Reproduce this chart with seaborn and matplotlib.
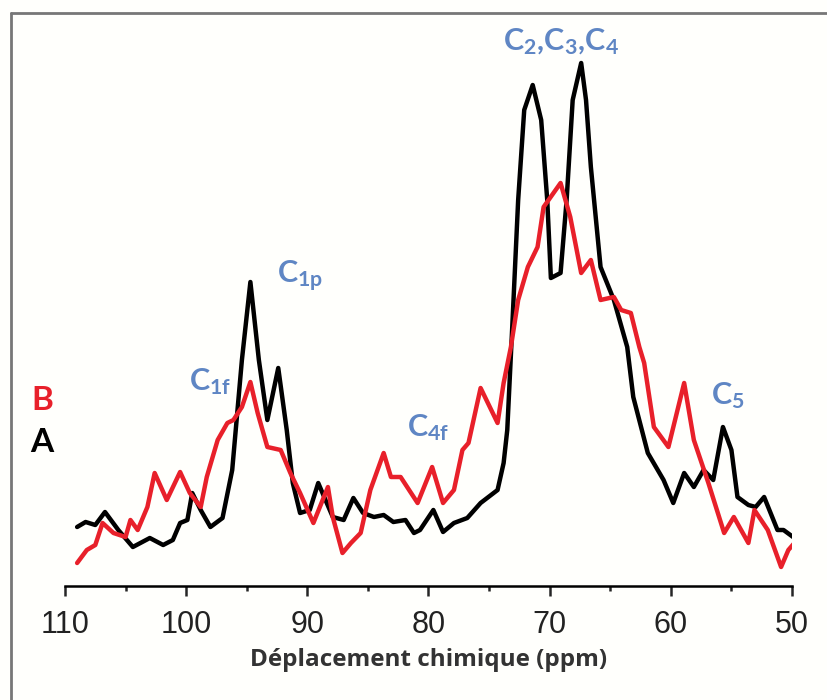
import pandas as pd
import numpy as np
import matplotlib.pyplot as plt
import seaborn as sns
from matplotlib.lines import Line2D
from matplotlib.ticker import MultipleLocator

# Spectre A (noir) : déplacement (ppm) et intensité (u.a.)
ppm_A = [109.0, 108.3, 107.5, 106.7, 105.6, 104.4, 103.0, 101.9, 101.1, 100.5, 99.9, 99.5,
         98.8, 98.0, 97.0, 96.2, 95.4, 94.7, 94.0, 93.3, 92.4, 91.7, 91.2, 90.6, 89.8, 89.1,
         88.5, 87.9, 87.0, 86.2, 85.4, 84.5, 83.7, 82.9, 81.9, 81.2, 80.7, 79.6, 78.8, 77.9,
         76.8, 75.7, 74.3, 73.8, 73.5, 73.1, 72.6, 72.1, 71.4, 70.7, 70.2, 69.9, 69.1, 68.6,
         68.1, 67.4, 67.0, 66.6, 65.8, 64.7, 63.6, 63.1, 61.9, 60.6, 59.8, 58.9, 58.1, 57.3,
         56.5, 55.7, 55.0, 54.5, 53.6, 53.0, 52.3, 51.7, 51.2, 50.7, 49.8]
int_A = [11.8, 12.8, 12.2, 14.8, 11.2, 7.8, 9.6, 8.2, 9.2, 12.6, 13.2, 18.6,
         15.2, 11.8, 13.6, 23.2, 45.2, 60.8, 45.2, 33.2, 43.6, 31.2, 20.6, 14.6, 15.2, 20.6,
         17.2, 13.8, 13.2, 17.6, 14.6, 13.8, 14.2, 12.8, 13.2, 10.6, 11.2, 15.2, 10.8, 12.6,
         13.6, 16.6, 19.2, 24.6, 31.2, 51.2, 77.2, 95.2, 100.2, 93.2, 77.2, 61.6, 62.6, 77.2,
         97.2, 104.6, 97.2, 83.8, 63.8, 57.2, 47.8, 37.8, 26.6, 21.2, 16.6, 22.6, 19.8, 23.2,
         21.2, 31.8, 27.2, 17.8, 16.2, 15.8, 17.8, 14.2, 11.2, 11.2, 9.6]

# Spectre B (rouge)
ppm_B = [109.0, 108.2, 107.5, 106.9, 106.0, 105.0, 104.6, 104.0, 103.2, 102.6, 101.6, 100.5,
         99.7, 98.8, 98.3, 97.4, 96.6, 96.1, 95.4, 94.7, 94.1, 93.3, 92.2, 91.4, 90.6, 89.5,
         88.3, 87.9, 87.1, 86.4, 85.6, 84.8, 83.7, 83.1, 82.3, 80.9, 79.7, 78.8, 77.9, 77.2,
         76.7, 75.7, 74.3, 73.8, 73.2, 72.6, 71.8, 71.0, 70.5, 69.1, 68.3, 67.4, 66.6, 65.8,
         64.7, 64.1, 63.3, 62.6, 62.2, 61.4, 60.2, 58.9, 58.1, 56.9, 55.6, 54.8, 53.6, 53.1,
         52.0, 50.9, 50.3, 49.8]
int_B = [4.6, 7.2, 8.2, 12.6, 10.6, 9.8, 13.2, 11.2, 15.8, 22.6, 17.2, 22.8,
         18.6, 15.8, 21.8, 29.2, 32.6, 33.2, 35.8, 40.8, 34.6, 27.8, 27.2, 22.6, 18.6, 12.6,
         19.8, 13.8, 6.6, 8.6, 10.6, 19.2, 26.6, 21.8, 21.8, 16.6, 23.8, 16.6, 19.2, 27.2,
         28.6, 39.6, 32.6, 40.6, 47.8, 57.2, 63.8, 67.8, 75.8, 80.6, 73.8, 62.6, 65.2, 57.2,
         57.8, 55.2, 54.6, 47.8, 44.6, 31.8, 27.8, 40.6, 29.2, 20.6, 10.6, 13.8, 8.6, 15.2,
         11.2, 3.8, 7.2, 8.6]

# étiquettes des pics : (texte, ppm, intensité)
pics = [("C$_{1f}$", 98.0, 40.8),
        ("C$_{1p}$", 90.6, 62.0),
        ("C$_{4f}$", 80.0, 31.6),
        ("C$_{2}$,C$_{3}$,C$_{4}$", 69.1, 108.8),
        ("C$_{5}$", 55.3, 38.0)]

df_A = pd.DataFrame({'ppm': ppm_A, 'intensite': int_A})
df_B = pd.DataFrame({'ppm': ppm_B, 'intensite': int_B})

sns.set_style("white")
plt.rcParams['font.family'] = ['Lato', 'DejaVu Sans']
plt.rcParams['mathtext.fontset'] = 'custom'
plt.rcParams['mathtext.rm'] = 'Lato'
plt.rcParams['mathtext.bf'] = 'Lato:bold'
plt.rcParams['mathtext.default'] = 'bf'

fond = '#fffffc'
fig = plt.figure(figsize=(8.28, 7.0), dpi=100, facecolor=fond)
ax = fig.add_axes([65 / 828, 114 / 700, 727 / 828, 566 / 700])
ax.set_facecolor(fond)

sns.lineplot(data=df_A, x='ppm', y='intensite', ax=ax, color='black', lw=3.2,
             sort=False, estimator=None)
sns.lineplot(data=df_B, x='ppm', y='intensite', ax=ax, color='#e8202a', lw=3.2,
             sort=False, estimator=None)
for line in ax.lines:
    line.set_solid_joinstyle('round')
    line.set_solid_capstyle('round')

ax.set_xlim(110, 50)
ax.set_ylim(0, 113.2)
ax.xaxis.set_major_locator(MultipleLocator(10))
ax.xaxis.set_minor_locator(MultipleLocator(5))
ax.tick_params(axis='x', which='major', direction='out', length=7, width=1.8,
               labelsize=22, pad=10, bottom=True)
ax.tick_params(axis='x', which='minor', direction='out', length=3.5, width=1.8, bottom=True)
for lab in ax.get_xticklabels():
    lab.set_fontfamily('Liberation Sans')
    lab.set_color('#222222')
ax.set_yticks([])
ax.set_ylabel('')
ax.set_xlabel('Déplacement chimique (ppm)', fontsize=17.5, fontweight='bold',
              fontfamily='Open Sans', color='#333333', labelpad=6)
sns.despine(ax=ax, left=True)
ax.spines['bottom'].set_linewidth(1.8)
ax.spines['bottom'].set_color('black')

for texte, x, y in pics:
    ax.text(x, y, texte, color='#5f86c4', fontsize=22, fontweight='bold',
            ha='center', va='center')

fig.text(42 / 828, 1 - 400 / 700, 'B', color='#e8202a', fontsize=24,
         fontweight='bold', ha='center', va='center')
fig.text(42 / 828, 1 - 442 / 700, 'A', color='black', fontsize=24,
         fontweight='bold', ha='center', va='center')

# cadre gris autour de la figure
fig.add_artist(Line2D([11 / 828, 11 / 828], [0, 1 - 13 / 700], color='#777777', lw=2))
fig.add_artist(Line2D([11 / 828, 1], [1 - 13 / 700, 1 - 13 / 700], color='#777777', lw=2))

fig.savefig('out.png', dpi=100, facecolor=fond)
